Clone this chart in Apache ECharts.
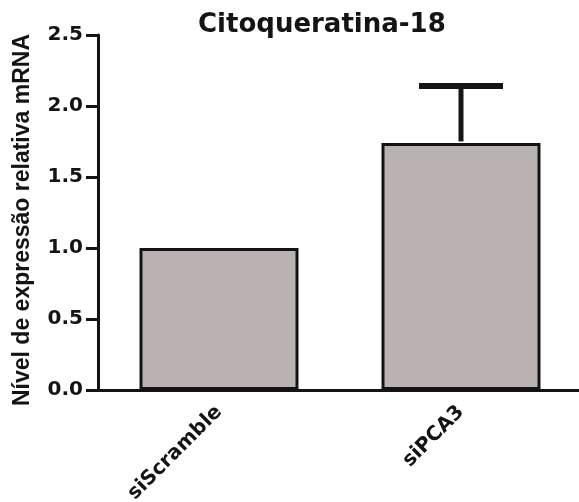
<!DOCTYPE html>
<html>
<head>
<meta charset="utf-8">
<script src="https://cdn.jsdelivr.net/npm/echarts@6/dist/echarts.min.js"></script>
<style>html,body{margin:0;padding:0;background:#fff}#c{width:579px;height:502px}</style>
</head>
<body>
<div id="c"></div>
<script>
const categories = ['siScramble', 'siPCA3'];
const means = [1.0, 1.74];
const errUpper = [null, 2.14];
const chartTitle = 'Citoqueratina-18';
const yName = 'Nível de expressão relativa mRNA';
const yMin = 0, yMax = 2.5, yStep = 0.5;

const errData = [];
categories.forEach((c, i) => { if (errUpper[i] != null) errData.push([i, means[i], errUpper[i]]); });

const chart = echarts.init(document.getElementById('c'));
const ink = '#141414';
chart.setOption({
  animation: false,
  backgroundColor: '#fff',
  title: {
    text: chartTitle, left: 193, top: 7,
    textStyle: { fontFamily: 'DejaVu Sans', fontWeight: 'bold', fontSize: 26, color: ink }
  },
  grid: { left: 98, top: 35, bottom: 112, width: 484, containLabel: false, outerBoundsMode: 'none' },
  xAxis: {
    type: 'category', data: categories,
    axisLine: { lineStyle: { color: ink, width: 3 } },
    axisTick: { alignWithLabel: true, length: 12, lineStyle: { color: ink, width: 3 } },
    axisLabel: { rotate: 45, margin: 19, fontFamily: 'DejaVu Sans', fontWeight: 'bold', fontSize: 20, color: ink }
  },
  yAxis: {
    type: 'value', min: yMin, max: yMax, interval: yStep,
    name: yName, nameLocation: 'middle', nameGap: 64, nameRotate: 90,
    nameTextStyle: { fontFamily: 'Liberation Sans', fontWeight: 'bold', fontSize: 23, color: ink, padding: [0, 15, 0, 0] },
    splitLine: { show: false },
    axisLine: { show: true, lineStyle: { color: ink, width: 3 } },
    axisTick: { show: true, length: 12, lineStyle: { color: ink, width: 3 } },
    axisLabel: { margin: 15, formatter: v => v.toFixed(1), fontFamily: 'DejaVu Sans', fontWeight: 'bold', fontSize: 20, color: ink }
  },
  series: [
    {
      type: 'bar', data: means, barWidth: 159,
      itemStyle: { color: '#bab2b1', borderColor: ink, borderWidth: 3 }
    },
    {
      type: 'custom', data: errData, z: 5,
      encode: { x: 0, y: [1, 2] },
      renderItem: function (params, api) {
        const b = api.coord([api.value(0), api.value(1)]);
        const t = api.coord([api.value(0), api.value(2)]);
        return { type: 'group', children: [
          { type: 'line', shape: { x1: b[0], y1: b[1] - 1.5, x2: t[0], y2: t[1] }, style: { stroke: ink, lineWidth: 5 } },
          { type: 'line', shape: { x1: t[0] - 42, y1: t[1], x2: t[0] + 42, y2: t[1] }, style: { stroke: ink, lineWidth: 6 } }
        ]};
      }
    }
  ]
});
</script>
</body>
</html>
